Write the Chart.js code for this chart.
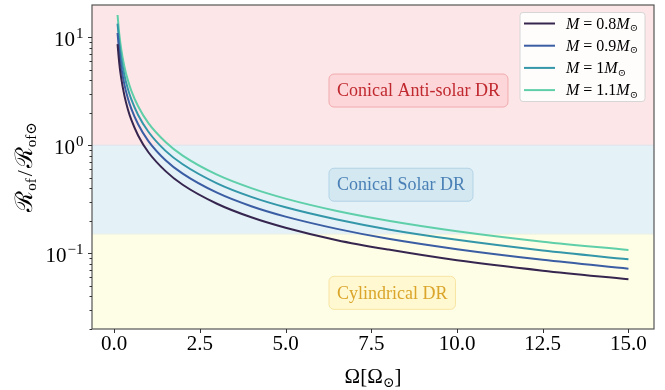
<!DOCTYPE html>
<html>
<head>
<meta charset="utf-8">
<script src="https://cdn.jsdelivr.net/npm/chart.js@4.4.1/dist/chart.umd.min.js"></script>
<style>
  html, body { margin: 0; padding: 0; background: #ffffff; }
  #wrap { width: 665px; height: 390px; }
</style>
</head>
<body>
<div id="wrap"><canvas id="c" width="665" height="390"></canvas></div>
<script>
// Rotation rate in solar units
const omega = [0.1, 0.15, 0.2, 0.3, 0.4, 0.5, 0.7, 1.0, 1.5, 2.0, 3.0, 4.0, 5.0, 6.5, 8.0, 10.0, 12.5, 15.0];

// Rossby-number ratio R_of / R_of,sun for each stellar mass
const ratioM08 = [8.6, 5.75, 4.3, 2.87, 2.15, 1.72, 1.23, 0.86, 0.575, 0.43, 0.287, 0.215, 0.172, 0.132, 0.108, 0.086, 0.069, 0.0575];
const ratioM09 = [10.9, 7.25, 5.45, 3.63, 2.72, 2.18, 1.56, 1.09, 0.725, 0.545, 0.363, 0.272, 0.218, 0.168, 0.136, 0.109, 0.087, 0.072];
const ratioM10 = [13.3, 8.85, 6.65, 4.43, 3.32, 2.66, 1.9, 1.33, 0.885, 0.665, 0.443, 0.332, 0.266, 0.205, 0.166, 0.133, 0.106, 0.088];
const ratioM11 = [16.0, 10.7, 8.0, 5.33, 4.0, 3.2, 2.29, 1.6, 1.07, 0.80, 0.533, 0.40, 0.32, 0.246, 0.20, 0.16, 0.128, 0.107];

const massValues = ['0.8', '0.9', '1', '1.1'];
const xTickValues = [0, 2.5, 5, 7.5, 10, 12.5, 15];
const yDecades = [-2, -1, 0, 1];

// Regime boundaries (upper edge of cylindrical, upper edge of conical solar)
const regimeBounds = [0.15, 1];
const regimeNames = ['Conical Anti-solar DR', 'Conical Solar DR', 'Cylindrical DR'];

const SERIF = '"Liberation Serif", "DejaVu Serif", serif';
const lineColors = ['#36264f', '#3a5da3', '#3497a9', '#5fcfa9'];

const seriesData = [ratioM08, ratioM09, ratioM10, ratioM11];
const datasets = seriesData.map((vals, i) => ({
  label: 'M = ' + massValues[i] + 'M⊙',
  data: omega.map((w, k) => ({ x: w, y: vals[k] })),
  borderColor: lineColors[i],
  backgroundColor: lineColors[i],
  borderWidth: 2,
  pointRadius: 0,
  showLine: true,
  cubicInterpolationMode: 'monotone',
  fill: false
}));

function drawRuns(ctx, runs, x, y) {
  runs.forEach(r => { ctx.font = r.f; ctx.fillText(r.t, x, y + (r.dy || 0)); x += ctx.measureText(r.t).width + (r.gap || 0); });
  return x;
}
function runsWidth(ctx, runs) {
  let w = 0;
  runs.forEach(r => { ctx.font = r.f; w += ctx.measureText(r.t).width + (r.gap || 0); });
  return w;
}

// Regime bands, annotation boxes, frame, ticks, titles and legend
const decorations = {
  id: 'decorations',
  beforeDatasetsDraw(chart) {
    const { ctx, chartArea: a, scales: { y } } = chart;
    const yLow = y.getPixelForValue(regimeBounds[0]);
    const yHigh = y.getPixelForValue(regimeBounds[1]);
    ctx.save();
    ctx.fillStyle = '#fde6e7';
    ctx.fillRect(a.left, a.top, a.right - a.left, yHigh - a.top);
    ctx.fillStyle = '#e4f2f8';
    ctx.fillRect(a.left, yHigh, a.right - a.left, yLow - yHigh);
    ctx.fillStyle = '#fefde6';
    ctx.fillRect(a.left, yLow, a.right - a.left, a.bottom - yLow);
    ctx.fillStyle = '#dfe6ee';
    ctx.fillRect(a.left, yHigh - 0.5, a.right - a.left, 1.2);
    ctx.fillStyle = '#eef3e0';
    ctx.fillRect(a.left, yLow - 0.5, a.right - a.left, 1);
    ctx.restore();
  },
  afterDatasetsDraw(chart) {
    const { ctx, chartArea: a, scales: { x, y } } = chart;
    ctx.save();
    // annotation boxes
    const boxes = [
      { text: regimeNames[0], yv: 3.2, fill: '#fcd6d8', stroke: '#f1abaf', color: '#c0292f' },
      { text: regimeNames[1], yv: 0.43, fill: '#d3e8f1', stroke: '#b3d3e7', color: '#4b80b6' },
      { text: regimeNames[2], yv: 0.043, fill: '#fff8d0', stroke: '#f8e5a3', color: '#daa52a' }
    ];
    ctx.font = '18px ' + SERIF;
    ctx.textBaseline = 'middle';
    ctx.textAlign = 'left';
    boxes.forEach(b => {
      const tx = x.getPixelForValue(6.5);
      const ty = y.getPixelForValue(b.yv);
      const w = ctx.measureText(b.text).width;
      const bx = tx - 8, by = ty - 16.5, bw = w + 16, bh = 33;
      ctx.beginPath();
      ctx.roundRect(bx, by, bw, bh, 5);
      ctx.fillStyle = b.fill;
      ctx.fill();
      ctx.lineWidth = 1;
      ctx.strokeStyle = b.stroke;
      ctx.stroke();
      ctx.fillStyle = b.color;
      ctx.fillText(b.text, tx, ty + 1);
    });
    // frame
    ctx.strokeStyle = '#555555';
    ctx.lineWidth = 1.2;
    ctx.strokeRect(a.left, a.top, a.right - a.left, a.bottom - a.top);
    ctx.restore();
  },
  afterDraw(chart) {
    const { ctx, chartArea: a, scales: { x, y } } = chart;
    ctx.save();
    ctx.strokeStyle = '#333333';
    ctx.lineWidth = 1;
    // x tick marks
    xTickValues.forEach(v => {
      const px = Math.round(x.getPixelForValue(v)) + 0.5;
      ctx.beginPath(); ctx.moveTo(px, a.bottom); ctx.lineTo(px, a.bottom + 4); ctx.stroke();
    });
    // y tick marks, major and minor, with power-of-ten labels
    ctx.fillStyle = '#000';
    ctx.textBaseline = 'alphabetic';
    ctx.textAlign = 'left';
    y.ticks.forEach(t => {
      const py = Math.round(y.getPixelForValue(t.value)) + 0.5;
      const len = t.major ? 4 : 2.5;
      ctx.beginPath(); ctx.moveTo(a.left, py); ctx.lineTo(a.left - len, py); ctx.stroke();
      if (t.major) {
        const e = Math.round(Math.log10(t.value));
        const runs = [
          { t: '10', f: '21px ' + SERIF, dy: 0, gap: 1 },
          { t: (e < 0 ? '−' : '') + Math.abs(e), f: '15px ' + SERIF, dy: -8.5 }
        ];
        const w = runsWidth(ctx, runs);
        drawRuns(ctx, runs, 83.5 - w, py + 8.5);
      }
    });
    // x axis title
    const xRuns = [
      { t: 'Ω[Ω', f: '21px ' + SERIF, dy: 0 },
      { t: '⊙', f: '14px ' + SERIF, dy: 4 },
      { t: ']', f: '21px ' + SERIF, dy: 0 }
    ];
    const xw = runsWidth(ctx, xRuns);
    drawRuns(ctx, xRuns, (a.left + a.right) / 2 - xw / 2, 382.5);

    // y axis title (rotated)
    ctx.save();
    ctx.translate(32, (a.top + a.bottom) / 2);
    ctx.rotate(-Math.PI / 2);
    const yRuns = [
      { t: 'ℛ', f: '24px "DejaVu Serif", serif', dy: 0 },
      { t: 'of', f: '15px ' + SERIF, dy: 4, gap: 2 },
      { t: '/', f: '22px ' + SERIF, dy: 0, gap: 2 },
      { t: 'ℛ', f: '24px "DejaVu Serif", serif', dy: 0 },
      { t: 'of⊙', f: '15px ' + SERIF, dy: 4 }
    ];
    const yw = runsWidth(ctx, yRuns);
    drawRuns(ctx, yRuns, -yw / 2, 0);
    ctx.restore();

    // legend
    const lx = 520, ly = 12.5, lw = 125, lh = 89;
    ctx.beginPath();
    ctx.roundRect(lx, ly, lw, lh, 3);
    ctx.fillStyle = 'rgba(255,255,255,0.85)';
    ctx.fill();
    ctx.strokeStyle = '#d6d6d6';
    ctx.lineWidth = 1;
    ctx.stroke();
    datasets.forEach((ds, i) => {
      const yy = 23.5 + i * 22.2;
      ctx.strokeStyle = ds.borderColor;
      ctx.lineWidth = 2;
      ctx.beginPath(); ctx.moveTo(524, yy); ctx.lineTo(555, yy); ctx.stroke();
      ctx.fillStyle = '#000';
      ctx.textBaseline = 'middle';
      const parts = [
        { t: 'M', f: 'italic 16px ' + SERIF, dy: 0 },
        { t: ' = ' + massValues[i], f: '16px ' + SERIF, dy: 0 },
        { t: 'M', f: 'italic 16px ' + SERIF, dy: 0 },
        { t: '⊙', f: '10px ' + SERIF, dy: 4 }
      ];
      drawRuns(ctx, parts, 566, yy + 1);
    });
    ctx.restore();
  }
};

new Chart(document.getElementById('c'), {
  type: 'scatter',
  data: { datasets },
  options: {
    responsive: false,
    animation: false,
    devicePixelRatio: 1,
    layout: { padding: { top: 5, right: 11, left: 0, bottom: 0 } },
    plugins: { legend: { display: false }, tooltip: { enabled: false } },
    scales: {
      x: {
        type: 'linear',
        min: -0.645,
        max: 15.745,
        afterFit(s) { s.height = 61; s.paddingLeft = 0; s.paddingRight = 0; },
        afterBuildTicks(s) { s.ticks = xTickValues.map(v => ({ value: v })); },
        grid: { display: false, drawTicks: false },
        border: { display: false },
        ticks: {
          color: '#000',
          padding: 3,
          maxRotation: 0,
          autoSkip: false,
          font: { family: SERIF, size: 21 },
          callback: v => Number(v).toFixed(1)
        }
      },
      y: {
        type: 'logarithmic',
        min: 0.0199,
        max: 19.8,
        afterFit(s) { s.width = 92; s.paddingTop = 0; s.paddingBottom = 0; },
        afterBuildTicks(s) {
          const t = [];
          yDecades.forEach(d => {
            for (let m = 1; m <= 9; m++) {
              const v = m * Math.pow(10, d);
              if (v >= s.min && v <= s.max) t.push({ value: v, major: m === 1 });
            }
          });
          s.ticks = t;
        },
        grid: { display: false, drawTicks: false },
        border: { display: false },
        ticks: { display: false }
      }
    }
  },
  plugins: [decorations]
});
</script>
</body>
</html>
